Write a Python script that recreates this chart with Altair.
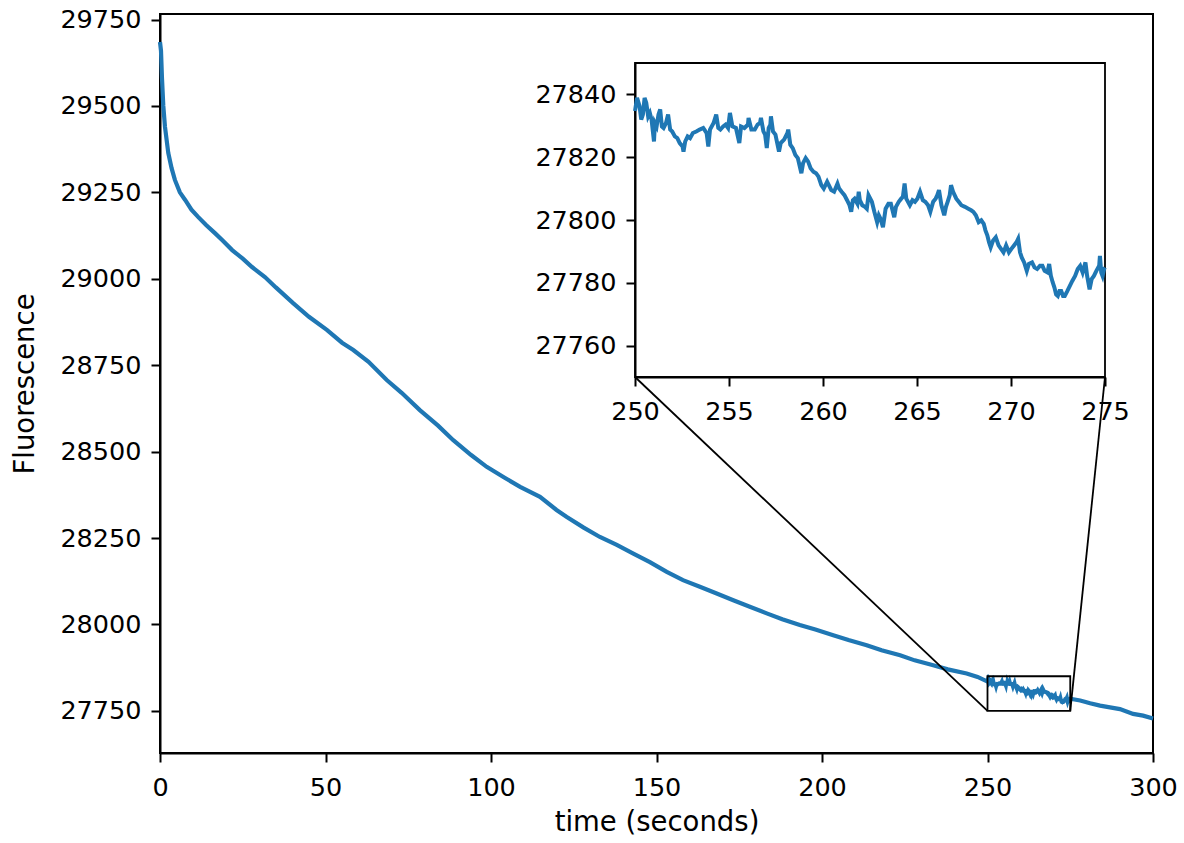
import altair as alt
import pandas as pd

# ---- main trace ----
head_t = [0.0, 0.3, 0.6, 1.0, 1.5, 2.5, 3.5, 4.5, 6.0, 7.6, 9.5, 11.5, 14.0, 16.6, 19.0,
          21.8, 25.0, 27.8, 31.7, 35.0, 40.3, 45.0, 50.4, 55.0, 58.4, 63.0, 68.5, 73.0,
          78.5, 84.0, 88.6, 94.0, 98.7, 104.0, 108.8, 114.8, 119.8, 122.9, 128.0, 132.9,
          138.0, 143.0, 148.0, 153.1, 158.0, 163.1, 168.0, 173.2, 178.0, 183.3, 188.0,
          193.3, 198.0, 203.4, 208.0, 213.5, 218.0, 223.6, 228.0, 233.6, 238.0, 243.7, 247.0]
head_v = [29685, 29660, 29580, 29500, 29440, 29364, 29320, 29286, 29250, 29228, 29200,
          29179, 29155, 29132, 29110, 29083, 29058, 29034, 29005, 28975, 28929, 28890,
          28852, 28815, 28794, 28760, 28707, 28670, 28620, 28575, 28533, 28490, 28456,
          28425, 28398, 28369, 28331, 28311, 28280, 28253, 28230, 28205, 28180, 28152,
          28128, 28109, 28090, 28070, 28052, 28032, 28015, 27998, 27985, 27969, 27955,
          27940, 27925, 27911, 27896, 27882, 27870, 27858, 27848]

tail_t = [278.0, 281.0, 284.0, 287.0, 290.0, 294.0, 297.0, 300.0]
tail_v = [27780, 27772, 27765, 27760, 27755, 27741, 27736, 27728]

# ---- zoomed window 250-275 s ----
inset_t = [250.00, 250.11, 250.24, 250.33, 250.42, 250.51, 250.60, 250.70, 250.79, 250.88,
           251.01, 251.06, 251.15, 251.25, 251.34, 251.43, 251.52, 251.65, 251.76, 251.87,
           251.98, 252.12, 252.25, 252.38, 252.53, 252.58, 252.67, 252.80, 252.93, 253.08,
           253.26, 253.44, 253.63, 253.81, 253.90, 253.99, 254.18, 254.32, 254.43, 254.54,
           254.69, 254.82, 254.95, 255.05, 255.18, 255.37, 255.55, 255.64, 255.82, 256.01,
           256.04, 256.19, 256.37, 256.52, 256.65, 256.70, 256.83, 256.92, 257.01, 257.11,
           257.20, 257.23, 257.34, 257.47, 257.66, 257.75, 257.93, 258.11, 258.15, 258.26,
           258.39, 258.53, 258.66, 258.85, 258.94, 259.08, 259.21, 259.34, 259.49, 259.63,
           259.76, 259.91, 260.04, 260.22, 260.31, 260.44, 260.59, 260.77, 260.86, 260.99,
           261.14, 261.28, 261.41, 261.50, 261.59, 261.68, 261.83, 261.90, 261.96, 262.09,
           262.23, 262.33, 262.42, 262.60, 262.73, 262.88, 262.97, 263.06, 263.19, 263.33,
           263.48, 263.61, 263.79, 263.88, 264.03, 264.16, 264.25, 264.34, 264.43, 264.62,
           264.76, 264.89, 265.02, 265.16, 265.31, 265.44, 265.59, 265.71, 265.86, 265.99,
           266.08, 266.17, 266.30, 266.45, 266.54, 266.63, 266.74, 266.81, 266.92, 267.09,
           267.22, 267.36, 267.55, 267.73, 267.88, 268.00, 268.13, 268.28, 268.42, 268.55,
           268.64, 268.74, 268.83, 268.92, 269.05, 269.19, 269.34, 269.47, 269.60, 269.74,
           269.89, 270.02, 270.16, 270.29, 270.38, 270.48, 270.57, 270.70, 270.84, 270.95,
           271.12, 271.25, 271.39, 271.54, 271.67, 271.79, 271.94, 272.03, 272.12, 272.22,
           272.31, 272.40, 272.49, 272.58, 272.67, 272.77, 272.86, 273.00, 273.13, 273.26,
           273.41, 273.55, 273.68, 273.81, 273.96, 274.05, 274.18, 274.29, 274.41, 274.54,
           274.69, 274.73, 274.80, 274.87, 274.95, 275.00]
inset_v = [27834.7, 27838.9, 27836.3, 27832.0, 27833.6, 27838.9, 27837.3, 27833.0, 27834.1, 27832.0,
           27825.0, 27830.9, 27829.8, 27833.6, 27835.2, 27829.8, 27829.3, 27830.9, 27833.6, 27828.8,
           27828.2, 27826.6, 27826.1, 27824.5, 27823.4, 27821.8, 27825.0, 27826.6, 27826.1, 27827.7,
           27828.2, 27828.8, 27829.3, 27827.7, 27823.4, 27828.8, 27830.9, 27833.6, 27829.3, 27828.8,
           27829.8, 27830.4, 27829.3, 27834.1, 27829.8, 27829.3, 27824.5, 27829.8, 27829.3, 27830.4,
           27832.5, 27828.8, 27828.8, 27830.4, 27830.9, 27832.5, 27828.2, 27827.2, 27822.9, 27829.3,
           27830.4, 27833.0, 27828.2, 27827.2, 27821.8, 27824.5, 27825.6, 27827.7, 27828.8, 27824.0,
           27822.9, 27820.7, 27819.7, 27814.9, 27818.1, 27819.7, 27818.6, 27816.5, 27815.4, 27814.9,
           27813.8, 27811.1, 27810.0, 27812.2, 27811.1, 27809.5, 27809.0, 27811.6, 27810.0, 27809.0,
           27807.9, 27806.3, 27804.7, 27802.6, 27806.3, 27806.8, 27805.2, 27809.0, 27806.3, 27804.7,
           27804.2, 27803.6, 27807.9, 27805.8, 27802.6, 27799.3, 27801.5, 27800.4, 27797.7, 27803.6,
           27805.2, 27805.2, 27800.9, 27804.2, 27805.8, 27806.8, 27807.4, 27811.6, 27806.8, 27804.7,
           27806.3, 27805.8, 27806.8, 27809.0, 27806.3, 27805.8, 27804.7, 27802.6, 27805.8, 27806.8,
           27807.9, 27809.5, 27804.7, 27801.5, 27804.2, 27805.8, 27807.9, 27811.1, 27809.0, 27806.8,
           27805.8, 27804.7, 27804.2, 27803.6, 27803.1, 27802.6, 27801.5, 27799.3, 27799.9, 27798.8,
           27796.7, 27795.1, 27792.9, 27791.3, 27793.5, 27794.5, 27791.9, 27790.8, 27789.7, 27791.9,
           27789.7, 27790.8, 27791.9, 27792.9, 27794.0, 27789.7, 27788.1, 27786.5, 27783.8, 27786.0,
           27786.5, 27784.9, 27784.4, 27785.4, 27785.4, 27783.8, 27783.3, 27786.0, 27782.2, 27780.1,
           27778.5, 27776.3, 27775.8, 27777.4, 27777.4, 27775.8, 27775.8, 27777.4, 27779.0, 27780.6,
           27782.2, 27784.4, 27785.4, 27783.3, 27786.5, 27782.2, 27777.9, 27781.2, 27782.2, 27783.8,
           27785.4, 27788.6, 27783.3, 27782.2, 27784.4, 27784.9]

X_TICKS = [0, 50, 100, 150, 200, 250, 300]
Y_TICKS = [27750, 28000, 28250, 28500, 28750, 29000, 29250, 29500, 29750]
INSET_X_TICKS = [250, 255, 260, 265, 270, 275]
INSET_Y_TICKS = [27760, 27780, 27800, 27820, 27840]
ZOOM_X = [250, 275]
ZOOM_Y = [27750, 27850]

# ---- layout (pixels) ----
W, H = 993, 739
INSET_LEFT, INSET_RIGHT = 475, 945
INSET_TOP, INSET_BOTTOM = 49, 363
BLUE = "#1f77b4"
FONT = "DejaVu Sans"

main_df = pd.DataFrame({"t": head_t + inset_t + tail_t, "v": head_v + inset_v + tail_v})
inset_df = pd.DataFrame({"t": inset_t, "v": inset_v})
box_df = pd.DataFrame({"t": [ZOOM_X[0]], "t2": [ZOOM_X[1]], "v": [ZOOM_Y[0]], "v2": [ZOOM_Y[1]]})
left_df = pd.DataFrame({"t": [ZOOM_X[0]], "v": [ZOOM_Y[0]]})
right_df = pd.DataFrame({"t": [ZOOM_X[1]], "v": [ZOOM_Y[0]]})

mx = alt.Scale(domain=[0, 300], nice=False, zero=False)
my = alt.Scale(domain=[27628, 29766], nice=False, zero=False)

main_line = alt.Chart(main_df).mark_line(color=BLUE, strokeWidth=4.2).encode(
    x=alt.X("t:Q", scale=mx, axis=alt.Axis(values=X_TICKS, title="time (seconds)",
                                           labelPadding=13, titleY=69, titleBaseline="middle")),
    y=alt.Y("v:Q", scale=my, axis=alt.Axis(values=Y_TICKS, format="d", title="Fluorescence",
                                           labelPadding=10, titleX=-135, titleY=H / 2,
                                           titleBaseline="middle")),
)

zoom_box = alt.Chart(box_df).mark_rect(filled=False, stroke="black", strokeWidth=1.8).encode(
    x=alt.X("t:Q", scale=mx), x2="t2:Q",
    y=alt.Y("v:Q", scale=my), y2="v2:Q",
)

conn_left = alt.Chart(left_df).mark_rule(color="black", strokeWidth=1.8).encode(
    x=alt.X("t:Q", scale=mx), x2=alt.value(INSET_LEFT),
    y=alt.Y("v:Q", scale=my), y2=alt.value(INSET_BOTTOM),
)
conn_right = alt.Chart(right_df).mark_rule(color="black", strokeWidth=1.8).encode(
    x=alt.X("t:Q", scale=mx), x2=alt.value(INSET_RIGHT),
    y=alt.Y("v:Q", scale=my), y2=alt.value(INSET_BOTTOM),
)

ix = alt.Scale(domain=[250, 275], range=[INSET_LEFT, INSET_RIGHT], nice=False, zero=False)
iy = alt.Scale(domain=[27750, 27850], range=[INSET_BOTTOM, INSET_TOP], nice=False, zero=False)

inset_frame = alt.Chart(box_df).mark_rect(filled=False, stroke="black", strokeWidth=1.8).encode(
    x=alt.X("t:Q", scale=ix), x2="t2:Q",
    y=alt.Y("v:Q", scale=iy), y2="v2:Q",
)
inset_line = alt.Chart(inset_df).mark_line(color=BLUE, strokeWidth=4).encode(
    x=alt.X("t:Q", scale=ix, axis=alt.Axis(values=INSET_X_TICKS, title="", orient="bottom",
                                           offset=INSET_BOTTOM - H, labelPadding=13)),
    y=alt.Y("v:Q", scale=iy, axis=alt.Axis(values=INSET_Y_TICKS, format="d", title="",
                                           orient="left", offset=-INSET_LEFT, labelPadding=10)),
)

main_group = alt.layer(main_line, zoom_box, conn_left, conn_right)
inset_group = alt.layer(inset_frame, inset_line)

chart = alt.layer(main_group, inset_group).resolve_scale(
    x="independent", y="independent"
).properties(
    width=W, height=H,
    autosize=alt.AutoSizeParams(type="none"),
    padding={"left": 160, "top": 14, "right": 31, "bottom": 90},
    background="white",
).configure_view(
    stroke="black", strokeWidth=2
).configure_axis(
    grid=False, domainColor="black", domainWidth=2, tickColor="black", tickWidth=2,
    tickSize=9, labelColor="black", titleColor="black", labelFont=FONT, titleFont=FONT,
    labelFontSize=25.5, titleFontSize=27.5, titleFontWeight="normal", labelFlush=False,
    labelOverlap=False,
)

chart.save("out.html", embed_options={"renderer": "svg", "actions": False})
